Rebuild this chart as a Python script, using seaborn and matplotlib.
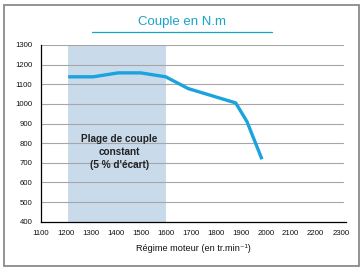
import matplotlib
matplotlib.use("Agg")
import matplotlib.pyplot as plt
import seaborn as sns
import pandas as pd
from matplotlib.patches import Rectangle
from matplotlib.lines import Line2D

# Data
rpm = [1210, 1310, 1410, 1500, 1600, 1690, 1880, 1925, 1985]
couple = [1138, 1138, 1158, 1158, 1138, 1078, 1005, 910, 718]
plage_debut, plage_fin = 1210, 1600
x_ticks = list(range(1100, 2301, 100))
y_ticks = list(range(400, 1301, 100))
titre = "Couple en N.m"
x_label = "Régime moteur (en tr.min⁻¹)"
annotation = "Plage de couple\nconstant\n(5 % d'écart)"

sns.set_style("white")
plt.rcParams['font.family'] = ['Liberation Sans', 'DejaVu Sans']

df = pd.DataFrame({"rpm": rpm, "couple": couple})

fig = plt.figure(figsize=(3.64, 2.70), dpi=100)
ax = fig.add_axes([40.7/364, 1-221.7/270, (345.7-40.7)/364, (221.7-45)/270])

ax.axvspan(plage_debut, plage_fin, color="#c9daeb", lw=0, zorder=0)
for y in y_ticks[1:]:
    ax.axhline(y, xmin=0, xmax=(2310-1100)/(2320-1100), color="#a6a6a6", lw=0.8, zorder=1)

sns.lineplot(data=df, x="rpm", y="couple", ax=ax, color="#1aa3dc", lw=2.4,
             zorder=3, solid_capstyle="butt")

ax.set_xlim(1100, 2320)
ax.set_ylim(400, 1300)
ax.set_xticks(x_ticks)
ax.set_yticks(y_ticks)
ax.tick_params(axis="both", direction="out", length=4, width=0.9, color="black",
               labelsize=5.6, pad=2)
for lbl in ax.get_xticklabels() + ax.get_yticklabels():
    lbl.set_color("#111111")
for s in ["top", "right"]:
    ax.spines[s].set_visible(False)
for s in ["left", "bottom"]:
    ax.spines[s].set_color("black")
    ax.spines[s].set_linewidth(0.9)
ax.set_xlabel(x_label, fontsize=6.6, labelpad=5, color="#111111")
ax.set_ylabel("")
ax.patch.set_alpha(0)

ax.text(1414, 754, annotation, ha="center", va="center", fontsize=7.2,
        fontweight="bold", color="#222222", linespacing=1.35, zorder=4)

# Title and underline
fig.text(182/364, 1-22/270, titre, ha="center", va="center", fontsize=9.5,
         color="#1aa3c8")
fig.add_artist(Line2D([91.7/364, 272.3/364], [1-31.7/270, 1-31.7/270],
                      color="#1aa3c8", lw=0.9, transform=fig.transFigure))

# Frame
fig.add_artist(Rectangle((4/364, 1-265.5/270), (359-4)/364, (265.5-5)/270,
                         fill=False, edgecolor="#8a8a8a", lw=1.3,
                         transform=fig.transFigure))

fig.savefig("out.png", dpi=100)
